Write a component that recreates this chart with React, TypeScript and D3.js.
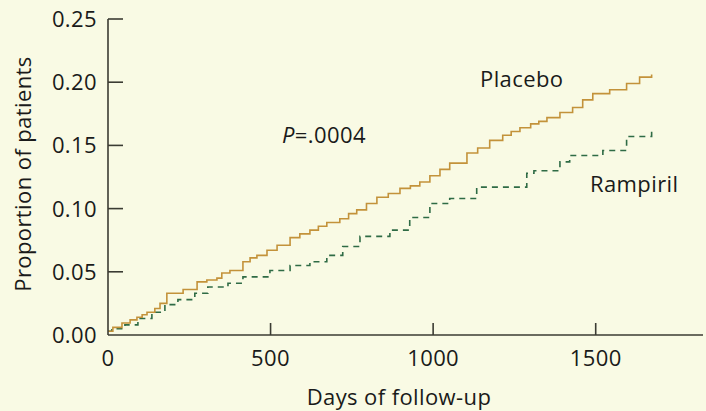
import React, { useEffect, useRef } from 'react';
import * as d3 from 'd3';

// step times (days) and cumulative proportion after each step
const placeboDays = [0, 15, 43, 68, 89, 105, 120, 144, 160, 181, 231, 274, 304, 335, 350, 375, 415, 437, 458, 489, 520, 560, 590, 621, 647, 673, 713, 740, 765, 795, 827, 862, 898, 930, 959, 990, 1021, 1051, 1104, 1137, 1174, 1214, 1240, 1267, 1300, 1325, 1350, 1390, 1429, 1460, 1491, 1543, 1595, 1635, 1672];
const placeboProp = [0.003, 0.006, 0.0095, 0.012, 0.014, 0.016, 0.018, 0.021, 0.025, 0.033, 0.036, 0.042, 0.0435, 0.045, 0.049, 0.051, 0.058, 0.061, 0.063, 0.067, 0.071, 0.077, 0.08, 0.083, 0.086, 0.089, 0.092, 0.096, 0.099, 0.104, 0.109, 0.112, 0.116, 0.118, 0.121, 0.126, 0.131, 0.136, 0.144, 0.148, 0.154, 0.158, 0.161, 0.164, 0.167, 0.169, 0.172, 0.176, 0.18, 0.186, 0.191, 0.194, 0.199, 0.204, 0.206];

const rampirilDays = [0, 12, 52, 92, 135, 175, 215, 267, 307, 369, 415, 498, 560, 621, 673, 722, 775, 867, 928, 990, 1051, 1134, 1288, 1310, 1390, 1420, 1522, 1595, 1672];
const rampirilProp = [0.003, 0.005, 0.008, 0.013, 0.018, 0.024, 0.028, 0.033, 0.038, 0.041, 0.046, 0.051, 0.055, 0.058, 0.063, 0.07, 0.078, 0.083, 0.093, 0.104, 0.108, 0.117, 0.128, 0.13, 0.137, 0.142, 0.146, 0.157, 0.161];

const xTicks = [0, 500, 1000, 1500];
const yTicks = [0, 0.05, 0.1, 0.15, 0.2, 0.25];

const W = 706;
const H = 411;
const FONT = "'Open Sans', sans-serif";
const FS = 22;

const App: React.FC = () => {
  const ref = useRef<SVGSVGElement>(null);

  useEffect(() => {
    const svg = d3.select(ref.current);
    svg.selectAll('*').remove();

    svg.append('rect').attr('width', W).attr('height', H).attr('fill', '#f9fae4');

    const x = d3.scaleLinear().domain([0, 1830]).range([108, 703]);
    const y = d3.scaleLinear().domain([0, 0.25]).range([335, 19]);

    const line = d3
      .line<[number, number]>()
      .x((d) => x(d[0]))
      .y((d) => y(d[1]))
      .curve(d3.curveStepAfter);

    const placebo = placeboDays.map((d, i) => [d, placeboProp[i]] as [number, number]);
    const rampiril = rampirilDays.map((d, i) => [d, rampirilProp[i]] as [number, number]);

    svg
      .append('path')
      .attr('d', line(rampiril))
      .attr('fill', 'none')
      .attr('stroke', '#2f6b45')
      .attr('stroke-width', 1.6)
      .attr('stroke-dasharray', '6,5');

    svg
      .append('path')
      .attr('d', line(placebo))
      .attr('fill', 'none')
      .attr('stroke', '#c3923a')
      .attr('stroke-width', 1.6);

    const axisColor = '#3b3b33';

    // axes
    svg
      .append('line')
      .attr('x1', x(0)).attr('x2', x(0))
      .attr('y1', y(0)).attr('y2', y(0.25))
      .attr('stroke', axisColor).attr('stroke-width', 1.6);
    svg
      .append('line')
      .attr('x1', x(0)).attr('x2', x(1830))
      .attr('y1', y(0)).attr('y2', y(0))
      .attr('stroke', axisColor).attr('stroke-width', 1.6);

    const txt = (sel: d3.Selection<SVGTextElement, any, any, any>) =>
      sel
        .attr('font-family', FONT)
        .attr('font-size', FS)
        .attr('letter-spacing', 0.4)
        .attr('fill', '#1a1a1a');

    // y ticks point inward
    svg
      .selectAll('.ytick')
      .data(yTicks.filter((t) => t > 0))
      .enter()
      .append('line')
      .attr('x1', x(0)).attr('x2', x(0) + 15)
      .attr('y1', (d) => y(d)).attr('y2', (d) => y(d))
      .attr('stroke', axisColor).attr('stroke-width', 1.6);

    svg
      .selectAll('.ylab')
      .data(yTicks)
      .enter()
      .append('text')
      .attr('x', 97)
      .attr('y', (d) => y(d) + 8)
      .attr('text-anchor', 'end')
      .call(txt)
      .text((d) => d.toFixed(2));

    svg
      .selectAll('.xtick')
      .data(xTicks.filter((t) => t > 0))
      .enter()
      .append('line')
      .attr('x1', (d) => x(d)).attr('x2', (d) => x(d))
      .attr('y1', y(0)).attr('y2', y(0) - 12)
      .attr('stroke', axisColor).attr('stroke-width', 1.6);

    svg
      .selectAll('.xlab')
      .data(xTicks)
      .enter()
      .append('text')
      .attr('x', (d) => x(d))
      .attr('y', 366)
      .attr('text-anchor', 'middle')
      .call(txt)
      .text((d) => String(d));

    svg
      .append('text')
      .attr('x', 399)
      .attr('y', 405)
      .attr('text-anchor', 'middle')
      .call(txt)
      .text('Days of follow-up');

    svg
      .append('text')
      .attr('transform', 'translate(31,174) rotate(-90)')
      .attr('text-anchor', 'middle')
      .call(txt)
      .text('Proportion of patients');

    svg.append('text').attr('x', 480).attr('y', 87).call(txt).text('Placebo');

    svg.append('text').attr('x', 590).attr('y', 192).call(txt).text('Rampiril');

    const p = svg.append('text').attr('x', 282).attr('y', 143).call(txt);
    p.append('tspan').attr('font-style', 'italic').text('P');
    p.append('tspan').text('=.0004');
  }, []);

  return (
    <svg
      ref={ref}
      width={W}
      height={H}
      style={{ position: 'fixed', top: 0, left: 0, display: 'block' }}
    />
  );
};

export default App;
